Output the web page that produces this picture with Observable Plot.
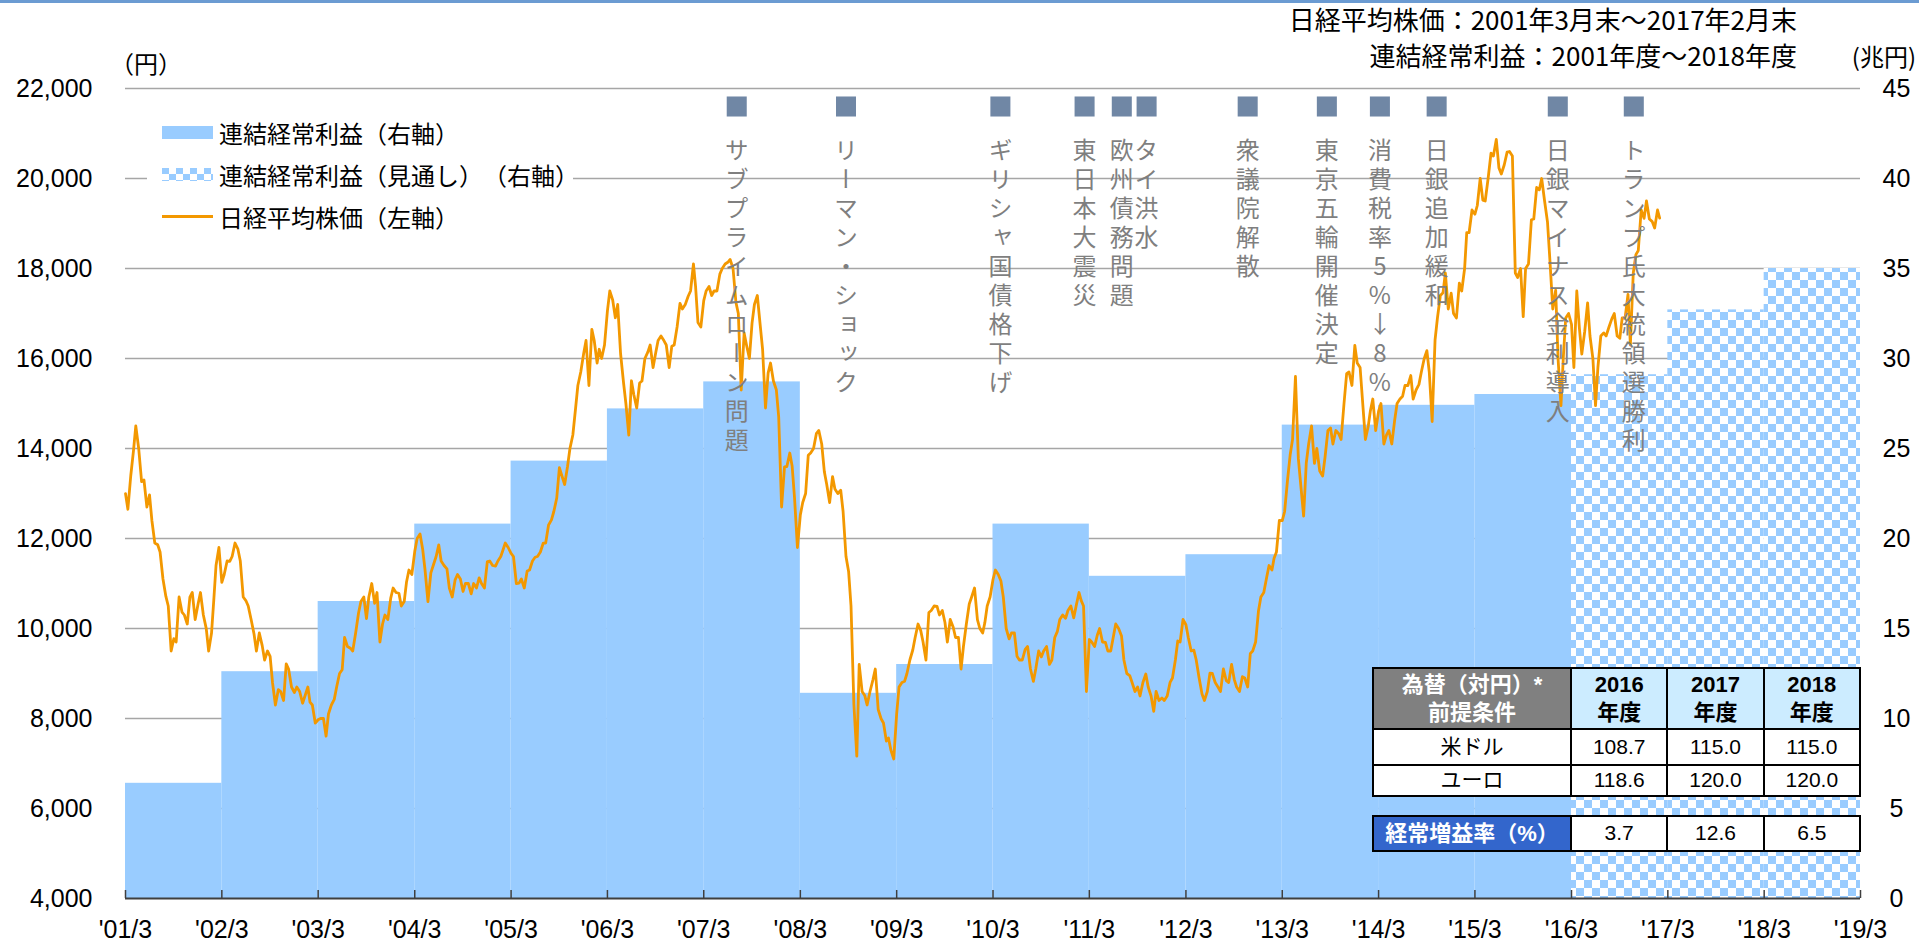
<!DOCTYPE html>
<html lang="ja">
<head>
<meta charset="utf-8">
<script src="https://cdn.jsdelivr.net/npm/d3@7"></script>
<script src="https://cdn.jsdelivr.net/npm/@observablehq/plot@0.6"></script>
<style>
html, body { margin:0; padding:0; background:#fff; overflow:hidden; }
* { text-spacing-trim: space-all; }
#wrap { position:relative; width:1919px; height:944px; overflow:hidden; }
#topline { position:absolute; left:0; top:0; width:1919px; height:3px; background:#6b9bd2; }
.jp { position:absolute; white-space:nowrap; font-family:"Noto Sans CJK JP","Noto Sans",sans-serif; color:#000; font-size:24px; line-height:30px; }
.cell { position:absolute; box-sizing:border-box; border:2px solid #000; display:flex; align-items:center; justify-content:center; text-align:center; font-family:"Liberation Sans",Arial,"Noto Sans CJK JP",sans-serif; color:#000; line-height:1.25; font-size:21px; }
</style>
</head>
<body>
<div id="wrap"><div id="topline"></div></div>
<script>
// ================= DATA =================
// 連結経常利益（兆円, 右軸）
const fiscalYearsActual = [2001,2002,2003,2004,2005,2006,2007,2008,2009,2010,2011,2012,2013,2014,2015];
const profitActual      = [6.4,12.6,16.5,20.8,24.3,27.2,28.7,11.4,13.0,20.8,17.9,19.1,26.3,27.4,28.0];
const fiscalYearsForecast = [2016,2017,2018];
const profitForecast      = [29.1,32.7,35.0];

// 日経平均株価（円, 左軸）: three readings per month (early, middle, month-end);
// 2001 starts with the March month-end reading
const nikkei2001 = [12999, 12650,13400,13934, 14500,14000,13262, 13300,12700,12969, 12400,11900,11860, 11700,11100,10713, 10500,9500,9774, 9700,10700,10366, 10300,10100,10697, 10800,10200,10542];
const nikkei2002 = [10800,10300,9997, 9500,9900,10587, 11400,11800,11024, 11200,11500,11492, 11600,11900,11763, 11500,10700,10621, 10500,10200,9877, 9500,9900,9619, 9300,9500,9383, 8800,8300,8640, 8600,8400,9215, 9100,8700,8578];
const nikkei2003 = [8700,8600,8339, 8500,8700,8363, 8300,7900,7972, 8000,8000,7607, 8100,8300,8425, 8700,9000,9083, 9800,9600,9563, 9500,9900,10343, 10600,10700,10219, 10700,11000,10560, 10800,9700,10100, 10300,10200,10676];
const nikkei2004 = [10900,10800,10783, 10500,10600,11041, 11300,11200,11715, 12000,12100,11761, 11300,10600,11236, 11400,11600,11858, 11500,11400,11325, 10900,10700,11081, 11200,11100,10823, 11000,11000,10771, 11000,10900,11126, 11000,10900,11488];
const nikkei2005 = [11500,11400,11387, 11500,11600,11740, 11900,11800,11668, 11600,11000,11008, 11100,10900,11276, 11300,11500,11584, 11600,11700,11899, 11900,12300,12413, 12600,12900,13574, 13400,13200,13606, 14000,14300,14872, 15400,15700,16111];
const nikkei2006 = [16400,15400,16649, 16400,15900,16205, 16000,16300,17059, 17500,17300,16906, 17200,16100,15467, 15000,14300,15505, 15200,14900,15456, 15500,16000,16140, 16300,15800,16127, 16400,16500,16399, 16300,15800,16274, 16300,16700,17225];
const nikkei2007 = [17100,17200,17383, 17500,18100,17604, 16800,16700,17287, 17500,17600,17400, 17500,17500,17875, 18000,18100,18138, 18200,18000,17248, 17000,15300,16569, 16300,16000,16785, 17200,17400,16737, 16200,14900,15680, 15900,15500,15307];
const nikkei2008 = [14700,12700,13592, 13600,13900,13603, 12900,11800,12525, 12800,13000,13849, 13900,14000,14338, 14400,14100,13481, 13200,12800,13376, 13100,13000,13072, 12600,11600,11259, 10500,8300,7162, 9200,8600,8512, 8300,8600,8859];
const nikkei2009 = [9100,8200,7994, 7900,7500,7568, 7300,7100,8109, 8700,8800,8828, 9000,9300,9522, 9800,10100,9958, 9700,9300,10356, 10400,10500,10492, 10300,10400,10133, 9700,10200,10034, 9800,9800,9100, 9600,10100,10546];
const nikkei2010 = [10700,10900,10198, 10000,9900,10126, 10500,10700,11089, 11300,11200,11057, 10700,10000,9768, 9900,9900,9382, 9300,9300,9537, 9600,9100,8824, 9100,9500,9369, 9500,9600,9202, 9300,9800,9937, 10200,10300,10228];
const nikkei2011 = [10400,10500,10237, 10500,10800,10624, 10500,8600,9755, 9700,9600,9849, 10000,9700,9693, 9500,9500,9816, 10100,10000,9833, 9300,9000,8955, 8800,8600,8700, 8500,8800,8988, 8700,8500,8160, 8600,8400,8455];
const nikkei2012 = [8400,8500,8802, 8900,9300,9723, 9700,10200,10083, 9800,9500,9520, 9300,8900,8542, 8400,8600,9007, 9000,8800,8695, 8600,9100,8839, 8800,9200,8870, 8700,8600,8928, 8900,8700,9446, 9500,9700,10395];
const nikkei2013 = [10700,10800,11138, 11400,11300,11559, 11700,12400,12397, 12600,13300,13860, 14200,15600,13774, 13200,12500,13677, 14100,14500,13668, 14000,13500,13389, 13800,14400,14456, 14100,14400,14327, 14200,15000,15662, 15700,15400,16291];
const nikkei2014 = [15900,15800,14914, 14200,14500,14841, 15100,14400,14828, 15000,14100,14304, 14400,14100,14632, 15000,15100,15162, 15400,15400,15621, 15100,15300,15425, 15700,16000,16174, 15700,14600,16414, 16900,17400,17460, 17900,17100,17451];
const nikkei2015 = [17000,16900,17674, 17500,18000,18798, 18800,19300,19207, 19400,20000,19520, 19500,20000,20563, 20500,20868,20236, 20100,20300,20585, 20600,20500,17900, 17800,18000,16930, 18000,18100,19083, 19100,19800,19747, 20000,19500,19034];
const nikkei2016 = [18200,17100,17518, 16000,14953,16027, 16900,17000,16759, 15800,17500,16666, 16100,16600,17235, 16500,16000,14952, 15800,16500,16569, 16500,16700,16887, 17000,16500,16450, 16900,16900,17425, 16300,17900,18308, 18400,19300,19114];
const nikkei2017 = [19500,19100,19041, 18900,19300,19119];

// 軸
const leftTickValues = [4000,6000,8000,10000,12000,14000,16000,18000,20000,22000];
const rightTickLabels = ["0","5","10","15","20","25","30","35","40","45"];
const xTickYears = [2001,2002,2003,2004,2005,2006,2007,2008,2009,2010,2011,2012,2013,2014,2015,2016,2017,2018,2019];
const xTickLabels = ["'01/3","'02/3","'03/3","'04/3","'05/3","'06/3","'07/3","'08/3","'09/3","'10/3","'11/3","'12/3","'13/3","'14/3","'15/3","'16/3","'17/3","'18/3","'19/3"];

// イベント
const eventLabels = ["サブプライムローン問題","リーマン・ショック","ギリシャ国債格下げ","東日本大震災","欧州債務問題","タイ洪水","衆議院解散","東京五輪開催決定","消費税率5%↓8%","日銀追加緩和","日銀マイナス金利導入","トランプ氏大統領選勝利"];
const eventDates  = ["2007-08-03","2008-09-20","2010-04-28","2011-03-13","2011-08-01","2011-11-03","2012-11-20","2013-09-16","2014-04-05","2014-11-06","2016-02-08","2016-11-22"];

// 凡例・タイトル
const legendLabels = ["連結経常利益（右軸）","連結経常利益（見通し）（右軸）","日経平均株価（左軸）"];
const titleLines = ["日経平均株価：2001年3月末～2017年2月末","連結経常利益：2001年度～2018年度"];

// 表
const tableYears = ["2016","2017","2018"];
const usdRate = ["108.7","115.0","115.0"];
const eurRate = ["118.6","120.0","120.0"];
const growthRate = ["3.7","12.6","6.5"];

// ================= BUILD =================
const toLeft = v => 4000 + v * 400;      // 右軸(兆円) → 左軸(円)
const fyStart = y => new Date(Date.UTC(y, 2, 31));
const tickDates = xTickYears.map(fyStart);

const profitActualData = fiscalYearsActual.map((y, i) => ({start: fyStart(y), end: fyStart(y + 1), value: profitActual[i]}));
const profitForecastData = fiscalYearsForecast.map((y, i) => ({start: fyStart(y), end: fyStart(y + 1), value: profitForecast[i]}));

const monthDay = (y, m, d) => new Date(Date.UTC(y, m - 1, d));
const monthEnd = (y, m) => new Date(Date.UTC(y, m, 0));
const nikkeiByYear = {2001:nikkei2001,2002:nikkei2002,2003:nikkei2003,2004:nikkei2004,2005:nikkei2005,2006:nikkei2006,2007:nikkei2007,2008:nikkei2008,2009:nikkei2009,2010:nikkei2010,2011:nikkei2011,2012:nikkei2012,2013:nikkei2013,2014:nikkei2014,2015:nikkei2015,2016:nikkei2016,2017:nikkei2017};
const nikkei = [{date: monthEnd(2001, 3), value: nikkei2001[0]}];
for (const [ys, arr] of Object.entries(nikkeiByYear)) {
  const y = +ys;
  let i = y === 2001 ? 1 : 0, m = y === 2001 ? 4 : 1;
  for (; i + 2 < arr.length + 0 || i < arr.length; i += 3, m++) {
    nikkei.push({date: monthDay(y, m, 9), value: arr[i]});
    nikkei.push({date: monthDay(y, m, 20), value: arr[i + 1]});
    nikkei.push({date: monthEnd(y, m), value: arr[i + 2]});
  }
}

const events = eventLabels.map((label, i) => ({label, date: new Date(eventDates[i] + "T00:00:00Z")}));

const plot = Plot.plot({
  width: 1919, height: 944,
  marginLeft: 125, marginRight: 59, marginTop: 88, marginBottom: 46,
  style: {fontFamily: "'Liberation Sans', Arial, sans-serif", fontSize: "25px", color: "#000", background: "transparent", overflow: "visible"},
  x: {type: "utc", domain: [tickDates[0], tickDates[tickDates.length - 1]]},
  y: {domain: [4000, 22000]},
  marks: [
    Plot.gridY(leftTickValues.slice(1), {stroke: "#a6a6a6", strokeOpacity: 1, strokeWidth: 1.3}),
    Plot.rect(profitActualData, {x1: "start", x2: "end", y1: () => toLeft(0), y2: d => toLeft(d.value), fill: "#99ccff"}),
    Plot.rect(profitForecastData, {x1: "start", x2: "end", y1: () => toLeft(0), y2: d => toLeft(d.value), fill: "url(#checker)"}),
    Plot.ruleY([4000], {stroke: "#3f3f3f", strokeWidth: 2}),
    Plot.tickX(tickDates, {x: d => d, insetTop: 802, stroke: "#3f3f3f", strokeWidth: 1.5}),
    Plot.axisY(leftTickValues, {anchor: "left", tickSize: 0, tickPadding: 33, tickFormat: d3.format(","), label: null, fill: "#000"}),
    Plot.axisY(leftTickValues, {anchor: "right", tickSize: 0, tickPadding: 36, textAnchor: "middle", tickFormat: d => rightTickLabels[leftTickValues.indexOf(d)], label: null, fill: "#000"}),
    Plot.axisX(tickDates, {tickSize: 0, tickPadding: 22, tickFormat: d => xTickLabels[xTickYears.indexOf(d.getUTCFullYear())], label: null, fill: "#000"}),
    Plot.dot(events, {x: "date", frameAnchor: "top", dy: 18, symbol: "square", r: 11.3, fill: "#7087a5", stroke: "none"}),
    Plot.line(nikkei, {x: "date", y: "value", stroke: "#f39800", strokeWidth: 2.8, strokeLinejoin: "round"}),
    Plot.text(events, {x: "date", text: "label", frameAnchor: "top", dy: 32, textAnchor: "start", lineAnchor: "top", fill: "#7f7f7f", fontSize: 24, fontFamily: "'Noto Sans CJK JP', sans-serif"})
  ]
});

const svg = d3.select(plot);
const defs = svg.insert("defs", ":first-child");
const pat = defs.append("pattern").attr("id", "checker").attr("width", 16).attr("height", 16).attr("patternUnits", "userSpaceOnUse");
pat.append("rect").attr("width", 16).attr("height", 16).attr("fill", "#fff");
pat.append("rect").attr("width", 8).attr("height", 8).attr("fill", "#99ccff");
pat.append("rect").attr("x", 8).attr("y", 8).attr("width", 8).attr("height", 8).attr("fill", "#99ccff");

plot.style.position = "absolute";
plot.style.left = "0px";
plot.style.top = "0px";
const wrap = document.getElementById("wrap");
wrap.appendChild(plot);

// vertical event labels
const evTexts = svg.selectAll('g[aria-label="text"] text');
evTexts
  .attr("dy", null)
  .attr("writing-mode", "tb")
  .style("writing-mode", "vertical-rl")
  .style("text-orientation", "upright")
  .style("letter-spacing", "5px");
let vertical = true;
evTexts.each(function () {
  const b = this.getBBox();
  if (b.width > b.height) vertical = false;
});
if (!vertical) {
  evTexts.each(function () {
    const t = d3.select(this);
    const s = t.text();
    const x = t.attr("x") || 0;
    t.attr("writing-mode", null).style("writing-mode", null).style("letter-spacing", null)
      .attr("text-anchor", "middle").text(null);
    Array.from(s).forEach((ch, k) => {
      t.append("tspan").attr("x", x).attr("dy", k === 0 ? "0.88em" : "29px").text(ch);
    });
  });
}

function addDiv(cls, css, html) {
  const d = document.createElement("div");
  d.className = cls;
  d.style.cssText = css;
  d.innerHTML = html;
  wrap.appendChild(d);
  return d;
}

// titles & units
addDiv("jp", "right:122px;top:4px;font-size:26px;", titleLines[0]);
addDiv("jp", "right:122px;top:40px;font-size:26px;", titleLines[1]);
addDiv("jp", "left:110px;top:48px;", "（円）");
addDiv("jp", "right:3px;top:41px;", "(兆円)");

// legend
const lg = addDiv("", "position:absolute;left:147px;top:108px;width:426px;height:132px;background:#fff;", "");
const swatches = [
  '<svg width="51" height="13"><rect width="51" height="13" fill="#99ccff"/></svg>',
  '<svg width="51" height="13"><defs><pattern id="chk2" width="14" height="12" patternUnits="userSpaceOnUse"><rect width="14" height="12" fill="#fff"/><rect width="7" height="6" fill="#99ccff"/><rect x="7" y="6" width="7" height="6" fill="#99ccff"/></pattern></defs><rect width="51" height="13" fill="url(#chk2)"/></svg>',
  '<svg width="51" height="13"><line x1="0" x2="51" y1="6.5" y2="6.5" stroke="#f39800" stroke-width="3"/></svg>'
];
const rowCenters = [25, 67, 109];
legendLabels.forEach((t, i) => {
  const sw = document.createElement("div");
  sw.style.cssText = `position:absolute;left:15px;top:${rowCenters[i] - 7}px;height:13px;line-height:0;`;
  sw.innerHTML = swatches[i];
  lg.appendChild(sw);
  const tx = document.createElement("div");
  tx.className = "jp";
  tx.style.cssText = `left:72px;top:${rowCenters[i] - 15}px;`;
  tx.textContent = t;
  lg.appendChild(tx);
});

// table
const xs = plot.scale("x");
const edges = [2016, 2017, 2018, 2019].map(y => xs.apply(fyStart(y)));
const tLeft = edges[0] - 198;
const rows = [668, 729, 765, 796];
function cell(x1, x2, y1, y2, bg, html, extra) {
  return addDiv("cell", `left:${x1 - 1}px;top:${y1 - 1}px;width:${x2 - x1 + 2}px;height:${y2 - y1 + 2}px;background:${bg};${extra || ""}`, html);
}
cell(tLeft, edges[0], rows[0], rows[1], "#808080", "為替（対円）*<br>前提条件", "color:#fff;font-weight:bold;font-size:22px;");
tableYears.forEach((y, i) => cell(edges[i], edges[i + 1], rows[0], rows[1], "#ccecff", `${y}<br>年度`, "font-weight:bold;font-size:22px;"));
cell(tLeft, edges[0], rows[1], rows[2], "#fff", "米ドル");
usdRate.forEach((v, i) => cell(edges[i], edges[i + 1], rows[1], rows[2], "#fff", v));
cell(tLeft, edges[0], rows[2], rows[3], "#fff", "ユーロ");
eurRate.forEach((v, i) => cell(edges[i], edges[i + 1], rows[2], rows[3], "#fff", v));
cell(tLeft, edges[0], 816, 851, "#3366cc", "経常増益率（%）", "color:#fff;font-weight:bold;font-size:22px;");
growthRate.forEach((v, i) => cell(edges[i], edges[i + 1], 816, 851, "#fff", v));
</script>
</body>
</html>
